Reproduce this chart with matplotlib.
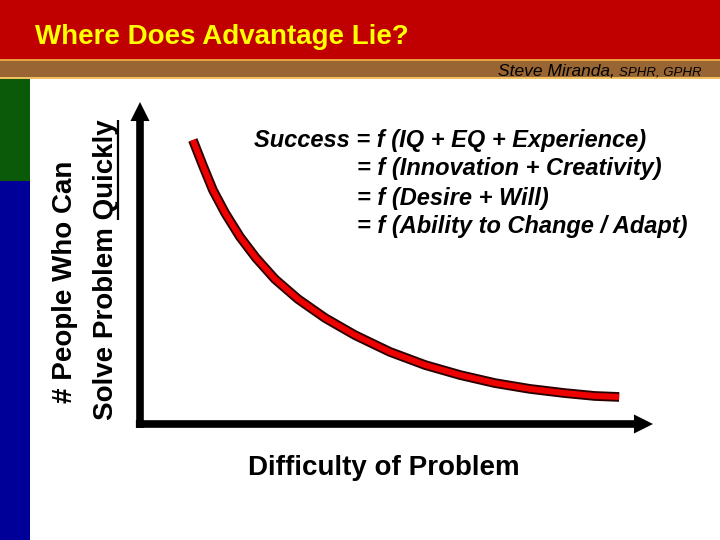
import matplotlib
matplotlib.use('Agg')
import matplotlib.pyplot as plt
import matplotlib.patheffects as pe
from matplotlib.patches import Rectangle, FancyArrowPatch

# curve (difficulty 0-10 along x, people 0-10 along y)
difficulty = [1.03, 1.23, 1.42, 1.66, 1.95, 2.26, 2.63, 3.08, 3.61, 4.19,
              4.87, 5.56, 6.24, 6.92, 7.60, 8.28, 8.87, 9.34]
people = [8.82, 8.01, 7.27, 6.55, 5.81, 5.16, 4.50, 3.88, 3.29, 2.76,
          2.24, 1.83, 1.52, 1.27, 1.09, 0.96, 0.87, 0.84]

title = 'Where Does Advantage Lie?'
author = 'Steve Miranda, '
creds = 'SPHR, GPHR'
formula = ['Success = f (IQ + EQ + Experience)',
           '= f (Innovation + Creativity)',
           '= f (Desire + Will)',
           '= f (Ability to Change / Adapt)']
ylabel1 = '# People Who Can'
ylabel2 = 'Solve Problem Quickly'
underlined = 'Quickly'
xlabel = 'Difficulty of Problem'

font = 'Liberation Sans'

fig = plt.figure(figsize=(7.2, 5.4), dpi=100)
fig.patch.set_facecolor('white')

# background in pixel units of the slide
bg = fig.add_axes([0, 0, 1, 1], zorder=0)
bg.set_xlim(0, 720)
bg.set_ylim(540, 0)
bg.axis('off')

bg.add_patch(Rectangle((0, 0), 720, 60, color='#C00000', lw=0))
bg.add_patch(Rectangle((0, 59), 720, 2, color='#E8A040', lw=0))
bg.add_patch(Rectangle((0, 61), 720, 16, color='#996633', lw=0))
bg.add_patch(Rectangle((0, 77), 720, 2, color='#F0C060', lw=0))
bg.add_patch(Rectangle((0, 79), 30, 102, color='#0A5A0A', lw=0))
bg.add_patch(Rectangle((0, 181), 30, 359, color='#000099', lw=0))

bg.text(35, 37, title, color='#FFFF00', fontsize=20, fontweight='bold',
        family=font, ha='left', va='center')
t_creds = bg.text(702, 75.5, creds, fontsize=9.5, style='italic',
                  family=font, ha='right', va='baseline')
t_author = bg.text(600, 75.5, author, fontsize=12.5, style='italic',
                   family=font, ha='right', va='baseline')

# rotated y label
bg.text(72, 282, ylabel1, fontsize=20, fontweight='bold', family=font,
        rotation=90, rotation_mode='anchor', ha='center', va='baseline')
t2 = bg.text(113, 270, ylabel2, fontsize=20, fontweight='bold', family=font,
             rotation=90, rotation_mode='anchor', ha='center', va='baseline')

# formula block
bg.text(254, 140, formula[0], fontsize=17, fontweight='bold', style='italic',
        family=font, ha='left', va='center')
for i, line in enumerate(formula[1:]):
    bg.text(357, 169 + 29 * i, line, fontsize=17, fontweight='bold',
            style='italic', family=font, ha='left', va='center')

bg.text(384, 468, xlabel, fontsize=20, fontweight='bold', family=font,
        ha='center', va='center')

# chart axes
ax = fig.add_axes([140 / 720, (540 - 424) / 540, (653 - 140) / 720, (424 - 102) / 540],
                  zorder=1)
ax.set_xlim(0, 10)
ax.set_ylim(0, 10)
ax.axis('off')
ax.patch.set_alpha(0)

arrow = 'simple,head_length=1.37,head_width=1.37,tail_width=0.55'
ax.add_patch(FancyArrowPatch((-0.08, 0), (10, 0), arrowstyle=arrow,
                             mutation_scale=10, color='black', lw=0,
                             shrinkA=0, shrinkB=0, clip_on=False))
ax.add_patch(FancyArrowPatch((0, -0.12), (0, 10), arrowstyle=arrow,
                             mutation_scale=10, color='black', lw=0,
                             shrinkA=0, shrinkB=0, clip_on=False))

ax.plot(difficulty, people, color='#EE0000', lw=4.3, solid_capstyle='butt',
        solid_joinstyle='round', clip_on=False,
        path_effects=[pe.Stroke(linewidth=7, foreground='#2A0000'), pe.Normal()])

# place author name before the credentials, underline "Quickly"
fig.canvas.draw()
r = fig.canvas.get_renderer()
inv = bg.transData.inverted()
cx, _ = inv.transform((t_creds.get_window_extent(r).x0, 0))
t_author.set_x(cx)

bb = t2.get_window_extent(r)
tmp = bg.text(0, 0, underlined, fontsize=20, fontweight='bold', family=font)
w = tmp.get_window_extent(r).width
tmp.remove()
_, ya = inv.transform((bb.x1, bb.y1))
_, yb = inv.transform((bb.x1, bb.y1 - w))
bg.plot([117.5, 117.5], [ya, yb], color='black', lw=1.6, solid_capstyle='butt')

fig.savefig('out.png', dpi=100)
